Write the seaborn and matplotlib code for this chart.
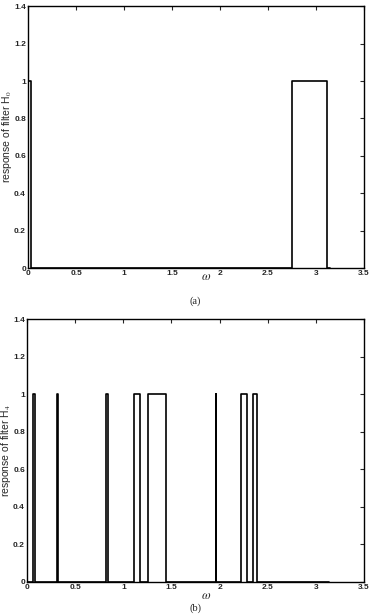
import numpy as np
import pandas as pd
import matplotlib
matplotlib.use("Agg")
import matplotlib.pyplot as plt
import seaborn as sns

# pass bands (omega start, omega end) where the filter response is 1
h0_lo = [0.0, 2.75]
h0_hi = [0.03, 3.11]
h4_lo = [0.062, 0.316, 0.815, 1.11, 1.255, 1.962, 2.22, 2.352]
h4_hi = [0.078, 0.322, 0.845, 1.17, 1.445, 1.968, 2.28, 2.392]
omega_end = np.pi

x_ticks = [0, 0.5, 1, 1.5, 2, 2.5, 3, 3.5]
x_labels = ["0", "0.5", "1", "1.5", "2", "2.5", "3", "3.5"]
y_ticks = [0, 0.2, 0.4, 0.6, 0.8, 1.0, 1.2, 1.4]
y_labels = ["0", "0.2", "0.4", "0.6", "0.8", "1", "1.2", "1.4"]


def step_table(lo, hi):
    xs, ys = [0.0], [0.0]
    for a, b in zip(lo, hi):
        xs += [a, a, b, b]
        ys += [0, 1, 1, 0]
    xs.append(omega_end)
    ys.append(0.0)
    return pd.DataFrame({"omega": xs, "response": ys, "order": range(len(xs))})


sns.set_style("white")
plt.rcParams["font.family"] = ["Liberation Sans", "DejaVu Sans"]
plt.rcParams["mathtext.fontset"] = "stix"

fig = plt.figure(figsize=(3.71, 6.15), dpi=100)
ax_a = fig.add_axes([0.0755, 0.564, 0.9055, 0.426])
ax_b = fig.add_axes([0.073, 0.054, 0.908, 0.427])

panels = [
    (ax_a, step_table(h0_lo, h0_hi), "response of filter H$_0$", "(a)", 0.503, -0.035),
    (ax_b, step_table(h4_lo, h4_hi), "response of filter H$_4$", "(b)", 0.003, -0.053),
]

for ax, df, ylab, cap, cap_y, xl_y in panels:
    sns.lineplot(data=df, x="omega", y="response", sort=False, estimator=None,
                 color="black", linewidth=1.2, ax=ax)
    ax.set_xlim(0, 3.5)
    ax.set_ylim(0, 1.4)
    ax.set_xticks(x_ticks)
    ax.set_xticklabels(x_labels, fontsize=6, fontweight="bold")
    ax.set_yticks(y_ticks)
    ax.set_yticklabels(y_labels, fontsize=6, fontweight="bold")
    ax.tick_params(direction="in", top=True, right=True, length=3, width=0.8, pad=1.5)
    for s in ax.spines.values():
        s.set_color("black")
        s.set_linewidth(1.0)
    ax.set_xlabel(r"$\omega$", fontsize=9, va="center")
    ax.xaxis.set_label_coords(0.53, xl_y)
    ax.set_ylabel(ylab, fontsize=7.5, va="center")
    ax.yaxis.set_label_coords(-0.064, 0.5)
    fig.text(0.527, cap_y, cap, ha="center", va="bottom", fontsize=7.5,
             family=["Liberation Serif", "DejaVu Serif"])

fig.savefig("out.png", dpi=100)
